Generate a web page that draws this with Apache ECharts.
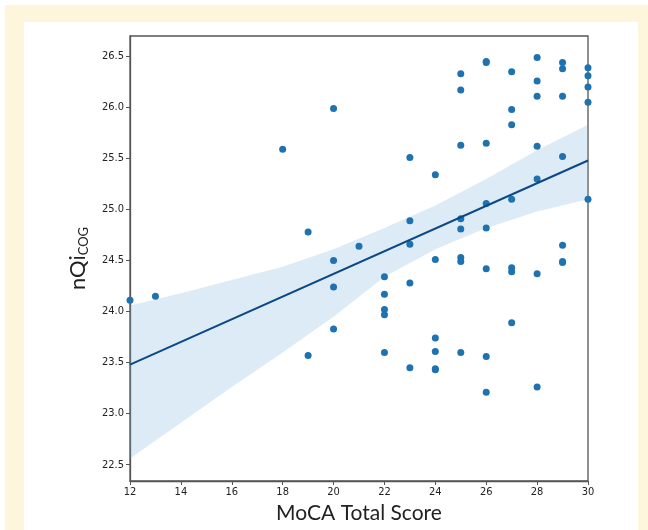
<!DOCTYPE html>
<html lang="en">
<head>
    <meta charset="UTF-8">
    <script src="https://cdn.jsdelivr.net/npm/echarts@6/dist/echarts.min.js"></script>
    <title>nQi vs MoCA</title>
    <style>
        body { margin: 0; background: #fff; }
    </style>
</head>
<body>
    <div id="main" style="width: 648px;height:530px;"></div>

    <script type="text/javascript">
        // MoCA total score (x) and nQi_COG (y) for every subject
        var mocaScore = [
            12, 13, 18, 19, 19, 20, 20, 20, 20, 21,
            22, 22, 22, 22, 22,
            23, 23, 23, 23, 23,
            24, 24, 24, 24, 24, 24,
            25, 25, 25, 25, 25, 25, 25, 25,
            26, 26, 26, 26, 26, 26, 26, 26,
            27, 27, 27, 27, 27, 27, 27,
            28, 28, 28, 28, 28, 28, 28,
            29, 29, 29, 29, 29, 29, 29,
            30, 30, 30, 30, 30
        ];
        var nqiCog = [
            24.11, 24.15, 25.59, 24.78, 23.57, 25.99, 24.50, 24.24, 23.83, 24.64,
            24.34, 24.17, 24.02, 23.97, 23.60,
            25.51, 24.89, 24.66, 24.28, 23.45,
            25.34, 24.51, 23.74, 23.61, 23.44, 23.43,
            26.33, 26.17, 25.63, 24.91, 24.81, 24.53, 24.49, 23.60,
            26.45, 26.44, 25.65, 25.06, 24.82, 24.42, 23.56, 23.21,
            26.35, 25.98, 25.83, 25.10, 24.43, 24.39, 23.89,
            26.49, 26.26, 26.11, 25.62, 25.30, 24.37, 23.26,
            26.44, 26.38, 26.11, 25.52, 24.65, 24.49, 24.48,
            26.39, 26.31, 26.20, 26.05, 25.10
        ];

        // fitted line end points
        var fitX = [12, 30];
        var fitY = [23.48, 25.48];

        // confidence band
        var bandX     = [12, 14, 16, 18, 20, 22, 24, 26, 28, 30];
        var bandUpper = [24.06, 24.18, 24.31, 24.44, 24.61, 24.82, 25.04, 25.30, 25.58, 25.83];
        var bandLower = [22.56, 22.91, 23.26, 23.60, 23.95, 24.34, 24.61, 24.82, 24.98, 25.10];

        var yTicks = [22.5, 23.0, 23.5, 24.0, 24.5, 25.0, 25.5, 26.0, 26.5];

        var points = [];
        for (var i = 0; i < mocaScore.length; i++) {
            points.push([mocaScore[i], nqiCog[i]]);
        }
        var fitData = [];
        for (var j = 0; j < fitX.length; j++) {
            fitData.push([fitX[j], fitY[j]]);
        }
        var bandData = [];
        for (var k = 0; k < bandX.length; k++) {
            bandData.push([bandX[k], bandLower[k], bandUpper[k]]);
        }

        var tickFont = "'DejaVu Sans Condensed', 'Liberation Sans Narrow', sans-serif";
        var axisColor = '#555';

        var myChart = echarts.init(document.getElementById('main'));

        var option = {
            backgroundColor: '#fff',
            animation: false,
            graphic: [{
                type: 'rect', z: -10, silent: true,
                shape: { x: 5, y: 5, width: 643, height: 525 },
                style: { fill: '#fdf6dc' }
            }, {
                type: 'rect', z: -9, silent: true,
                shape: { x: 24, y: 22, width: 614, height: 508 },
                style: { fill: '#fff' }
            }],
            grid: {
                left: 130, top: 36, right: 60, bottom: 49,
                show: true,
                borderColor: axisColor,
                borderWidth: 1.3,
                backgroundColor: 'transparent'
            },
            xAxis: {
                type: 'value',
                min: 12, max: 30, interval: 2,
                name: 'MoCA Total Score',
                nameLocation: 'middle',
                nameGap: 21,
                nameTextStyle: { fontFamily: 'Lato', fontSize: 21, color: '#222' },
                axisLine: { show: true, lineStyle: { color: axisColor, width: 1.3 } },
                axisTick: { show: true, length: 4, lineStyle: { color: axisColor } },
                axisLabel: { fontFamily: tickFont, fontSize: 11, color: '#222', margin: 6 },
                splitLine: { show: false }
            },
            yAxis: {
                type: 'value',
                min: 22.34, max: 26.70,
                name: '{a|nQi}{b|COG}',
                nameLocation: 'middle',
                nameGap: 40,
                nameTextStyle: {
                    rich: {
                        a: { fontFamily: 'Lato', fontSize: 22, color: '#222' },
                        b: { fontFamily: 'Lato', fontSize: 13, color: '#222', padding: [12, 0, 0, 0] }
                    }
                },
                axisLine: { show: true, lineStyle: { color: axisColor, width: 1.3 } },
                axisTick: { show: true, length: 4, customValues: yTicks, lineStyle: { color: axisColor } },
                axisLabel: {
                    customValues: yTicks,
                    fontFamily: tickFont, fontSize: 11, color: '#222', margin: 6,
                    formatter: function (v) { return v.toFixed(1); }
                },
                splitLine: { show: false }
            },
            series: [{
                type: 'custom',
                z: 1,
                silent: true,
                encode: { x: 0, y: [1, 2] },
                data: bandData,
                renderItem: function (params, api) {
                    if (params.dataIndex !== 0) return;
                    var pts = [];
                    for (var a = 0; a < bandX.length; a++) {
                        pts.push(api.coord([bandX[a], bandUpper[a]]));
                    }
                    for (var b = bandX.length - 1; b >= 0; b--) {
                        pts.push(api.coord([bandX[b], bandLower[b]]));
                    }
                    return {
                        type: 'polygon',
                        shape: { points: pts },
                        style: { fill: 'rgba(120, 175, 225, 0.25)', stroke: null }
                    };
                }
            }, {
                type: 'scatter',
                z: 3,
                symbolSize: 7,
                itemStyle: { color: '#1f72b0', opacity: 1 },
                data: points
            }, {
                type: 'line',
                z: 4,
                symbol: 'none',
                lineStyle: { color: '#0a4886', width: 2 },
                data: fitData
            }]
        };
        myChart.setOption(option);
    </script>
</body>
</html>
